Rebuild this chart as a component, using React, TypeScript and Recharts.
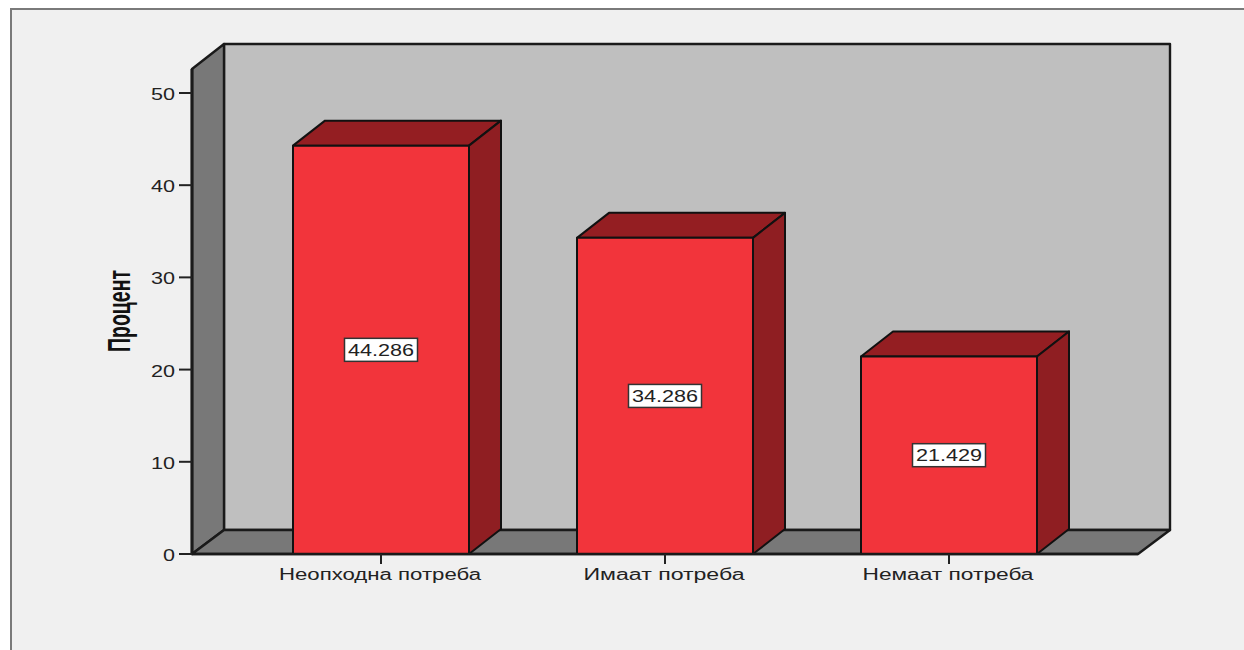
import { BarChart, Bar, XAxis, YAxis, LabelList, ReferenceArea, Label } from 'recharts';

const categories = ['Неопходна потреба', 'Имаат потреба', 'Немаат потреба'];
const percents = [44.286, 34.286, 21.429];
const yTicks = [0, 10, 20, 30, 40, 50];
const yMax = 52.6;

const data = categories.map((name, i) => ({ name, percent: percents[i] }));

const DEPTH_X = 32;
const DEPTH_Y = 25;
const AXIS_PAD = 47;
const EDGE = '#1a1a1a';

function pts(list: number[][]) {
  return list.map((p) => p.join(',')).join(' ');
}

// back wall, left wall and floor of the 3D box; the area only spans the
// padded band range, so it is widened back out to the axis ends
function ChartBox({ x: bandX, y, width: bandWidth, height }: any) {
  const x = bandX - AXIS_PAD;
  const width = bandWidth + AXIS_PAD * 2;
  const r = x + width;
  const b = y + height;
  const dx = DEPTH_X;
  const dy = DEPTH_Y;
  return (
    <g stroke={EDGE} strokeWidth={2.4} strokeLinejoin="round">
      <rect x={x + dx} y={y - dy} width={width} height={height + 1} fill="#bfbfbf" />
      <polygon points={pts([[x, y], [x + dx, y - dy], [x + dx, b - dy + 1], [x, b]])} fill="#787878" />
      <polygon points={pts([[x, b], [x + dx, b - dy + 1], [r + dx, b - dy + 1], [r, b]])} fill="#787878" />
    </g>
  );
}

function Bar3D({ x, y, width, height }: any) {
  const r = x + width;
  const b = y + height;
  return (
    <g stroke="#111" strokeWidth={2} strokeLinejoin="round">
      <polygon
        points={pts([[x, y], [x + DEPTH_X, y - DEPTH_Y], [r + DEPTH_X, y - DEPTH_Y], [r, y]])}
        fill="#941e22"
      />
      <polygon
        points={pts([[r, y], [r + DEPTH_X, y - DEPTH_Y], [r + DEPTH_X, b - DEPTH_Y], [r, b]])}
        fill="#8f1e22"
      />
      <rect x={x} y={y} width={width} height={height} fill="#f2343b" />
    </g>
  );
}

function ValueBox({ x, y, width, height, value }: any) {
  const cx = x + width / 2;
  const cy = y + height / 2;
  return (
    <g>
      <rect x={cx - 36.5} y={cy - 11.5} width={73} height={23} fill="#fff" stroke="#333" strokeWidth={1.5} />
      <text
        x={cx}
        y={cy + 6}
        textAnchor="middle"
        textLength={66}
        lengthAdjust="spacingAndGlyphs"
        fontFamily="Liberation Sans"
        fontSize={16}
        fill="#222"
      >
        {Number(value).toFixed(3)}
      </text>
    </g>
  );
}

function CategoryTick({ x, y, payload }: any) {
  // category labels are drawn a little wider than the font's natural width
  const widths: Record<string, number> = {
    'Неопходна потреба': 202,
    'Имаат потреба': 161,
    'Немаат потреба': 171,
  };
  return (
    <text
      x={x - 1}
      y={y + 14}
      textAnchor="middle"
      textLength={widths[payload.value]}
      lengthAdjust="spacingAndGlyphs"
      fontFamily="Liberation Sans"
      fontSize={16}
      fill="#222"
    >
      {payload.value}
    </text>
  );
}

function ValueTick({ x, y, payload }: any) {
  return (
    <text
      x={x - 2}
      y={y + 7}
      textAnchor="end"
      textLength={payload.value === 0 ? 12 : 24}
      lengthAdjust="spacingAndGlyphs"
      fontFamily="Liberation Sans"
      fontSize={16}
      fill="#222"
    >
      {payload.value}
    </text>
  );
}

function AxisTitle() {
  return (
    <text
      transform="translate(130 311) rotate(-90)"
      textAnchor="middle"
      textLength={82}
      lengthAdjust="spacingAndGlyphs"
      fontFamily="Liberation Sans Narrow, Liberation Sans"
      fontWeight="bold"
      fontSize={31}
      fill="#111"
    >
      Процент
    </text>
  );
}

export default function App() {
  return (
    <div style={{ position: 'absolute', left: 0, top: 0, width: 1244, height: 650, background: '#fff', overflow: 'hidden' }}>
      <div
        style={{
          position: 'absolute',
          left: 10,
          top: 8,
          width: 1234,
          height: 642,
          boxSizing: 'border-box',
          background: '#f0f0f0',
          borderLeft: '2px solid #7a7a7a',
          borderTop: '2px solid #7a7a7a',
        }}
      />
      <BarChart
        width={1244}
        height={650}
        data={data}
        margin={{ top: 69, right: 106, bottom: 0, left: 0 }}
        barSize={176}
        style={{ position: 'absolute', left: 0, top: 0 }}
      >
        <ReferenceArea y1={0} y2={yMax} shape={ChartBox} />
        <XAxis
          dataKey="name"
          padding={{ left: AXIS_PAD, right: AXIS_PAD }}
          tick={CategoryTick}
          tickSize={10}
          tickLine={{ stroke: '#222', strokeWidth: 2 }}
          axisLine={{ stroke: EDGE, strokeWidth: 2.4 }}
          interval={0}
          height={96}
        />
        <YAxis
          type="number"
          domain={[0, yMax]}
          ticks={yTicks}
          tick={ValueTick}
          tickSize={13}
          tickLine={{ stroke: '#222', strokeWidth: 2 }}
          axisLine={{ stroke: EDGE, strokeWidth: 3 }}
          width={192}
        >
          <Label content={AxisTitle} />
        </YAxis>
        <Bar dataKey="percent" shape={Bar3D} isAnimationActive={false}>
          <LabelList dataKey="percent" content={ValueBox} />
        </Bar>
      </BarChart>
    </div>
  );
}
